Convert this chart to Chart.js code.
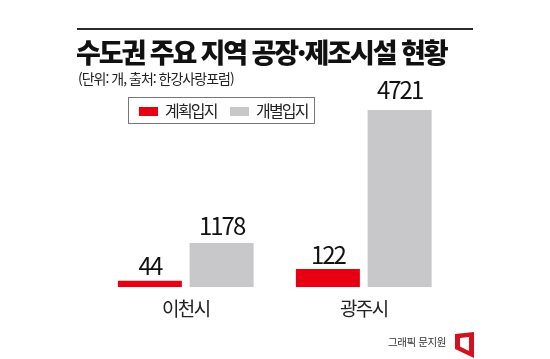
<!DOCTYPE html>
<html lang="ko">
<head>
<meta charset="utf-8">
<script src="https://cdn.jsdelivr.net/npm/chart.js@4"></script>
<style>
    html, body { margin: 0; padding: 0; background: #fff; }
    body { width: 550px; height: 359px; position: relative; overflow: hidden; font-family: "Noto Sans CJK KR", sans-serif; color: #111; }
    #chart-box { position: absolute; left: 0; top: 0; width: 550px; height: 359px; }
    .txt { position: absolute; white-space: nowrap; line-height: 1; }
    #rule { position: absolute; left: 77px; top: 28px; width: 396px; height: 2px; background: #2b2b2b; }
    #title { left: 76px; top: 38px; font-size: 27px; font-weight: 900; letter-spacing: -2.1px; }
    #source { left: 78px; top: 71px; font-size: 14px; letter-spacing: -1px; color: #222; }
    #legend { position: absolute; left: 128px; top: 97px; width: 185px; height: 25px; border: 1px solid #777; box-sizing: content-box; }
    .swatch { position: absolute; top: 9px; width: 19px; height: 9px; }
    .legend-label { top: 4px; font-size: 16px; letter-spacing: -1.8px; color: #222; }
    #credit { left: 388px; top: 337px; font-size: 10.5px; letter-spacing: -0.4px; color: #333; }
    #logo { position: absolute; left: 454px; top: 331px; }
</style>
</head>
<body>
<div id="chart-box"><canvas id="factory-chart" width="550" height="359"></canvas></div>
<div id="rule"></div>
<div class="txt" id="title">수도권 주요 지역 공장·제조시설 현황</div>
<div class="txt" id="source">(단위: 개, 출처: 한강사랑포럼)</div>
<div id="legend"></div>
<div class="txt" id="credit">그래픽 문지원</div>
<svg id="logo" width="21" height="28" viewBox="0 0 21 28">
    <path d="M1 3 L20 1 L20 27 L1 18 Z M6 7 L15 6 L15 20 L6 15.5 Z" fill="#d4111e" fill-rule="evenodd"/>
</svg>
<script>
var cities = ['이천시', '광주시'];
var planned = [44, 122];
var individual = [1178, 4721];
var seriesNames = ['계획입지', '개별입지'];
var seriesColors = ['#e60012', '#c8c8ca'];

// the two series do not share a scale in the original graphic, so each has its own hidden axis
var plannedMax = 1530;
var individualMax = 6050;

// gap between bar top and its number, per series / city
var labelGaps = [[6, 5], [8, 11]];

// legend box
var legend = document.getElementById('legend');
var swatchX = [10, 101];
var labelX = [36, 127];
seriesNames.forEach(function (name, i) {
    var sw = document.createElement('div');
    sw.className = 'swatch';
    sw.style.left = swatchX[i] + 'px';
    sw.style.background = seriesColors[i];
    legend.appendChild(sw);
    var lb = document.createElement('div');
    lb.className = 'txt legend-label';
    lb.style.left = labelX[i] + 'px';
    lb.textContent = name;
    legend.appendChild(lb);
});

var valueLabels = {
    id: 'valueLabels',
    beforeDraw: function (chart) {
        chart.ctx.letterSpacing = '-1.6px'; // tick labels are set tight
    },
    afterDatasetsDraw: function (chart) {
        var c = chart.ctx;
        c.save();
        c.font = '24px "Noto Sans CJK KR"';
        c.letterSpacing = '-2px';
        c.fillStyle = '#111';
        c.textAlign = 'center';
        c.textBaseline = 'alphabetic';
        chart.data.datasets.forEach(function (ds, i) {
            chart.getDatasetMeta(i).data.forEach(function (bar, j) {
                c.fillText(String(ds.data[j]), bar.x, bar.y - labelGaps[i][j]);
            });
        });
        c.restore();
    }
};

var ctx = document.getElementById('factory-chart').getContext('2d');
var myChart = new Chart(ctx, {
    type: 'bar',
    data: {
        labels: cities,
        datasets: [
            {
                label: seriesNames[0],
                data: planned,
                backgroundColor: seriesColors[0],
                yAxisID: 'yPlanned'
            },
            {
                label: seriesNames[1],
                data: individual,
                backgroundColor: seriesColors[1],
                yAxisID: 'yIndividual'
            }
        ]
    },
    options: {
        responsive: false,
        animation: false,
        barPercentage: 0.892,
        categoryPercentage: 0.806,
        layout: { padding: { left: 96.75, right: 97.25, top: 60, bottom: 29 } },
        plugins: {
            legend: { display: false },
            title: { display: false },
            tooltip: { enabled: false }
        },
        scales: {
            x: {
                grid: { display: false, drawTicks: false },
                border: { display: false },
                ticks: {
                    color: '#222',
                    padding: 10,
                    font: { family: '"Noto Sans CJK KR"', size: 19 }
                }
            },
            yPlanned: { display: false, min: 0, max: plannedMax },
            yIndividual: { display: false, min: 0, max: individualMax }
        }
    },
    plugins: [valueLabels]
});
</script>
</body>
</html>
